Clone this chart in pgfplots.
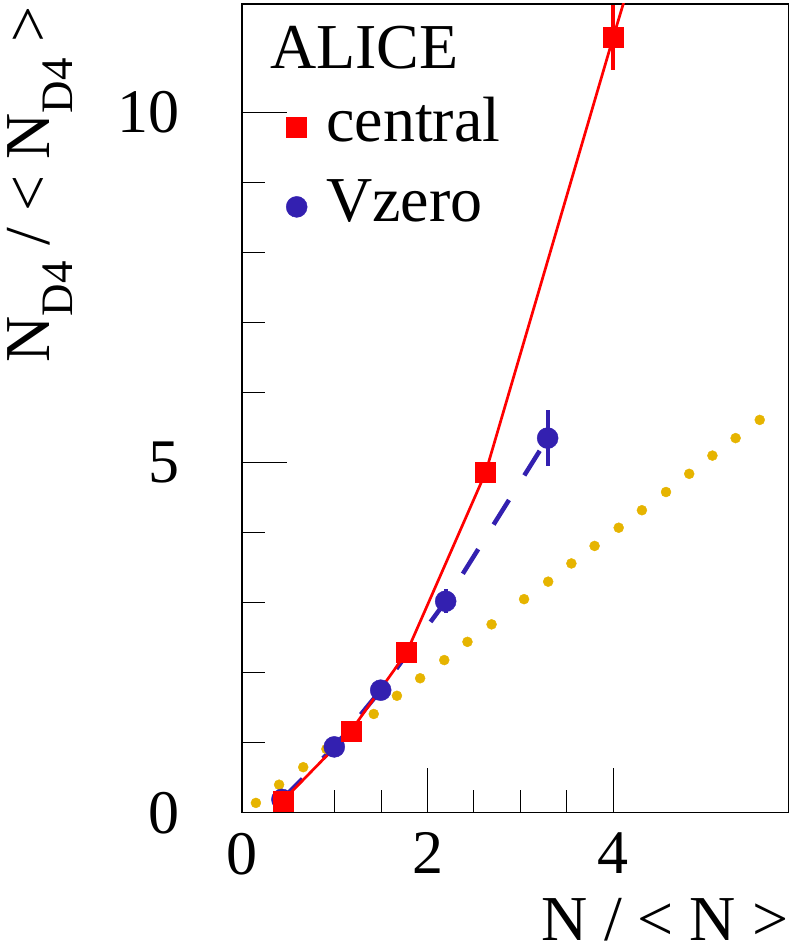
\documentclass[border=0pt]{standalone}
\usepackage{pgfplots}
\pgfplotsset{compat=1.18}
\usepackage{fontspec}
\setmainfont{Liberation Serif}
\definecolor{cred}{RGB}{255,0,0}
\definecolor{cblue}{RGB}{51,32,176}
\definecolor{cgold}{RGB}{230,180,0}
\newcommand{\subDf}{\raisebox{-23pt}{\fontsize{45}{45}\selectfont D4}}
\begin{document}
\begin{tikzpicture}
\begin{axis}[
  scale only axis,
  width=546.5pt, height=808.7pt,
  xmin=0, xmax=5.89, ymin=0, ymax=11.55,
  axis line style={line width=1.5pt, black},
  tick align=inside,
  xtick pos=bottom, ytick pos=left,
  xtick={0,2,4}, ytick={0,5,10},
  minor x tick num=3, minor y tick num=4,
  major tick length=45pt, minor tick length=23pt,
  tick style={black, line width=1pt},
  /pgf/number format/assume math mode=true,
  ticklabel style={font=\fontsize{62}{62}\selectfont, inner sep=0pt},
  xticklabel style={anchor=north, yshift=-20pt},
  yticklabel style={anchor=east, xshift=-62pt},
  xlabel={N / < N >},
  xlabel style={at={(rel axis cs:1,0)}, anchor=base east, yshift=-128pt, inner sep=0pt, font=\fontsize{64}{64}\selectfont},
  ylabel={N\subDf{} / < N\subDf{} >},
  ylabel style={at={([xshift=-192pt,yshift=-2pt]rel axis cs:0,1)}, rotate=0, anchor=base east, inner sep=0pt, font=\fontsize{64}{64}\selectfont},
  reverse legend,
  legend style={draw=none, fill=none, at={(rel axis cs:0.0805,0.8854)}, anchor=north west,
    font=\fontsize{64}{64}\selectfont, inner sep=0pt, row sep=20pt, column sep=19pt,
    cells={anchor=west}, nodes={inner sep=0pt, text height=45pt, text depth=15pt}},
]
% y = x reference (dotted)
\addplot[only marks, mark=*, mark size=5pt, color=cgold, forget plot] coordinates {
 (0.15,0.14) (0.40,0.40) (0.66,0.65) (0.91,0.91) (1.16,1.16) (1.42,1.41)
 (1.67,1.67) (1.92,1.92) (2.18,2.18) (2.43,2.44) (2.69,2.69)
 (3.04,3.05) (3.30,3.30) (3.55,3.56) (3.80,3.81) (4.06,4.07) (4.31,4.32)
 (4.57,4.58) (4.82,4.84) (5.07,5.10) (5.32,5.35) (5.58,5.61)};
% Vzero line
\addplot[cblue, line width=4.5pt, dash pattern=on 29pt off 29pt, forget plot] coordinates {
 (0.43,0.19) (0.995,0.94) (1.495,1.75) (2.195,3.02) (3.294,5.35)};
% Vzero marks
\addplot[only marks, mark=*, mark size=10.5pt, color=cblue,
  error bars/.cd, y dir=both, y explicit, error mark=none,
  error bar style={line width=4pt, cblue}] coordinates {
 (0.43,0.19) +- (0,0) (0.995,0.94) +- (0,0) (1.495,1.75) +- (0,0)
 (2.195,3.02) +- (0,0.17) (3.294,5.35) +- (0,0.40)};
\addlegendentry{Vzero}
% central line
\addplot[cred, line width=2.7pt, forget plot] coordinates {
 (0.44,0.17) (1.175,1.17) (1.775,2.29) (2.626,4.86) (4.0,11.07) (4.12,11.6)};
% central marks
\addplot[only marks, mark=square*, mark size=10pt, color=cred,
  error bars/.cd, y dir=both, y explicit, error mark=none,
  error bar style={line width=4.5pt, cred}] coordinates {
 (0.44,0.17) +- (0,0) (1.175,1.17) +- (0,0) (1.775,2.29) +- (0,0)
 (2.626,4.86) +- (0,0) (4.0,11.07) +- (0,0.46)};
\addlegendentry{central}
\node[anchor=base west, inner sep=0pt, font=\fontsize{64}{64}\selectfont] at (rel axis cs:0.0512,0.9205) {ALICE};
\end{axis}
\pgfresetboundingbox
\path[use as bounding box] (-242pt,-135.3pt) rectangle (550pt,812.7pt);
\end{tikzpicture}
\end{document}
